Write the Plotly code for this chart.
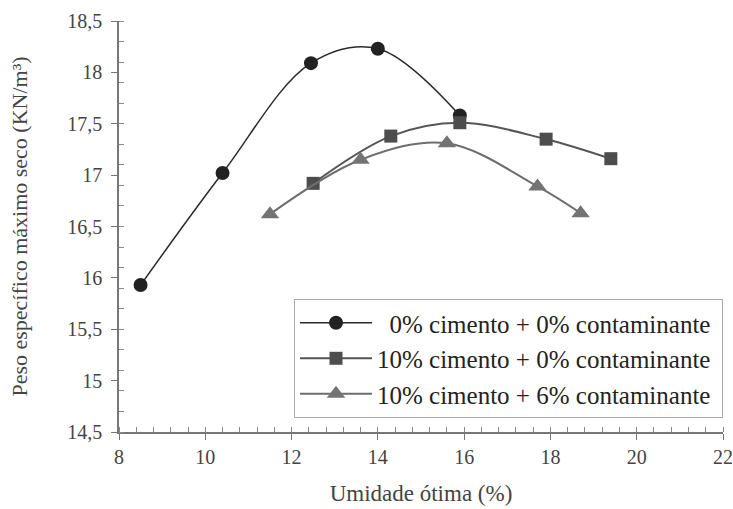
import plotly.graph_objects as go

s1_x = [8.5, 10.4, 12.45, 14.0, 15.9]
s1_y = [15.93, 17.02, 18.09, 18.23, 17.58]
s2_x = [12.5, 14.3, 15.9, 17.9, 19.4]
s2_y = [16.92, 17.38, 17.51, 17.35, 17.16]
s3_x = [11.5, 13.6, 15.6, 17.7, 18.7]
s3_y = [16.62, 17.15, 17.31, 16.89, 16.63]
names = ["\u00a0\u00a00% cimento + 0% contaminante\u00a0",
         "10% cimento + 0% contaminante\u00a0",
         "10% cimento + 6% contaminante\u00a0"]

fig = go.Figure()
fig.add_trace(go.Scatter(x=s1_x, y=s1_y, name=names[0], mode="lines+markers",
                         line=dict(color="#2a2a2a", width=1.5, shape="spline", smoothing=1.0),
                         marker=dict(symbol="circle", size=14, color="#222222")))
fig.add_trace(go.Scatter(x=s2_x, y=s2_y, name=names[1], mode="lines+markers",
                         line=dict(color="#555555", width=2, shape="spline", smoothing=1.0),
                         marker=dict(symbol="square", size=13, color="#4d4d4d")))
fig.add_trace(go.Scatter(x=s3_x, y=s3_y, name=names[2], mode="lines+markers",
                         line=dict(color="#6e6e6e", width=2, shape="spline", smoothing=1.0),
                         marker=dict(symbol="triangle-up", size=16, color="#737373")))

font = "Liberation Serif, Times New Roman, serif"
fig.update_layout(
    width=733, height=509,
    margin=dict(l=119, r=10, t=21, b=77),
    paper_bgcolor="white", plot_bgcolor="white",
    separators=",.",
    font=dict(family=font, size=20, color="#333333"),
    showlegend=True,
    legend=dict(x=1, xanchor="right", y=0.034, yanchor="bottom",
                bordercolor="#aaaaaa", borderwidth=1, bgcolor="white",
                font=dict(family=font, size=25, color="#222222"),
                itemwidth=72),
    xaxis=dict(range=[8, 22], dtick=2, tick0=8, showgrid=False, zeroline=False,
               showline=True, linecolor="#777777", linewidth=1.5, automargin=False,
               ticks="outside", ticklen=6, tickcolor="#777777",
               ticklabeloverflow="allow",
               minor=dict(dtick=0.4, ticks="inside", ticklen=5, tickcolor="#888888"),
               title=dict(text="Umidade ótima (%)", font=dict(family=font, size=23, color="#444444"), standoff=18),
               tickfont=dict(family=font, size=20, color="#444444")),
    yaxis=dict(range=[14.5, 18.5], dtick=0.5, tick0=14.5, showgrid=False, zeroline=False,
               showline=True, linecolor="#777777", linewidth=1.5, automargin=False,
               ticks="outside", ticklen=6, tickcolor="#777777",
               ticklabeloverflow="allow", ticklabelstandoff=5,
               minor=dict(dtick=0.2, tick0=14.5, ticks="inside", ticklen=5, tickcolor="#888888"),
               title=dict(text="Peso específico máximo seco (KN/m³)", font=dict(family=font, size=22, color="#444444"), standoff=34),
               tickfont=dict(family=font, size=20, color="#444444")),
)

fig.write_html("out.html", config={"displayModeBar": False},
               post_script="document.body.style.margin='0';document.body.style.overflow='hidden';")
